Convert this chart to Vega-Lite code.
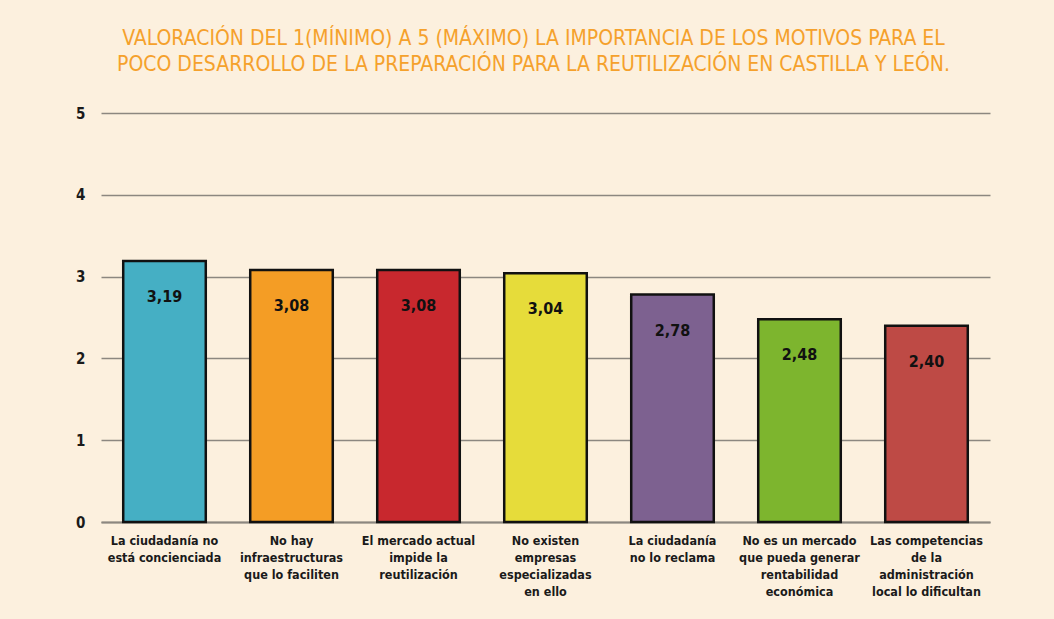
{
  "$schema": "https://vega.github.io/schema/vega-lite/v6.json",
  "autosize": {"type": "none"},
  "width": 889,
  "height": 409,
  "padding": {"left": 101, "top": 113, "right": 64, "bottom": 97},
  "background": "#FCF0DE",
  "config": {"view": {"stroke": null}},
  "title": {
    "text": ["VALORACIÓN DEL 1(MÍNIMO) A 5 (MÁXIMO) LA IMPORTANCIA DE LOS MOTIVOS PARA EL", "POCO DESARROLLO DE LA PREPARACIÓN PARA LA REUTILIZACIÓN EN CASTILLA Y LEÓN."],
    "font": "DejaVu Sans Condensed, Liberation Sans, sans-serif",
    "fontSize": 21,
    "fontWeight": "normal",
    "color": "#F5A12C",
    "lineHeight": 26,
    "anchor": "middle",
    "offset": 31,
    "dx": -12
  },
  "data": {
    "values": [
      {"motivo": "La ciudadanía no|está concienciada", "valor": 3.19, "etiqueta": "3,19"},
      {"motivo": "No hay|infraestructuras|que lo faciliten", "valor": 3.08, "etiqueta": "3,08"},
      {"motivo": "El mercado actual|impide la|reutilización", "valor": 3.08, "etiqueta": "3,08"},
      {"motivo": "No existen|empresas|especializadas|en ello", "valor": 3.04, "etiqueta": "3,04"},
      {"motivo": "La ciudadanía|no lo reclama", "valor": 2.78, "etiqueta": "2,78"},
      {"motivo": "No  es un mercado|que pueda generar|rentabilidad|económica", "valor": 2.48, "etiqueta": "2,48"},
      {"motivo": "Las competencias|de la|administración|local lo dificultan", "valor": 2.40, "etiqueta": "2,40"}
    ]
  },
  "encoding": {
    "x": {
      "field": "motivo", "type": "nominal", "sort": null,
      "scale": {"paddingInner": 0.35, "paddingOuter": 0.175},
      "axis": {
        "title": null, "labelAngle": 0, "ticks": false, "domain": true,
        "domainColor": "#8c8780", "domainWidth": 2,
        "labelExpr": "split(datum.label, '|')",
        "labelFont": "DejaVu Sans Condensed, Liberation Sans, sans-serif", "labelFontWeight": "bold",
        "labelFontSize": 12.5, "labelColor": "#1a1a1a", "labelLineHeight": 17,
        "labelPadding": 12, "labelBaseline": "top", "labelLimit": 200
      }
    }
  },
  "layer": [
    {
      "mark": {"type": "bar", "stroke": "#111111", "strokeWidth": 2.5},
      "encoding": {
        "y": {
          "field": "valor", "type": "quantitative",
          "scale": {"domain": [0, 5]},
          "axis": {
            "title": null, "values": [0, 1, 2, 3, 4, 5], "format": "d", "ticks": false, "domain": false,
            "grid": true, "gridColor": "#8c8780", "gridWidth": 1.5,
            "labelFont": "DejaVu Sans Condensed, Liberation Sans, sans-serif", "labelFontWeight": "bold",
            "labelFontSize": 15, "labelColor": "#1a1a1a", "labelPadding": 16
          }
        },
        "color": {
          "field": "motivo", "type": "nominal", "sort": null, "legend": null,
          "scale": {"range": ["#45AFC4", "#F49D25", "#C8282E", "#E6DC3A", "#7D6190", "#7DB52E", "#BE4A45"]}
        }
      }
    },
    {
      "mark": {"type": "text", "baseline": "middle", "dy": 36, "font": "DejaVu Sans Condensed, Liberation Sans, sans-serif", "fontWeight": "bold", "fontSize": 16, "color": "#111111"},
      "encoding": {
        "y": {"field": "valor", "type": "quantitative"},
        "text": {"field": "etiqueta"}
      }
    }
  ]
}
